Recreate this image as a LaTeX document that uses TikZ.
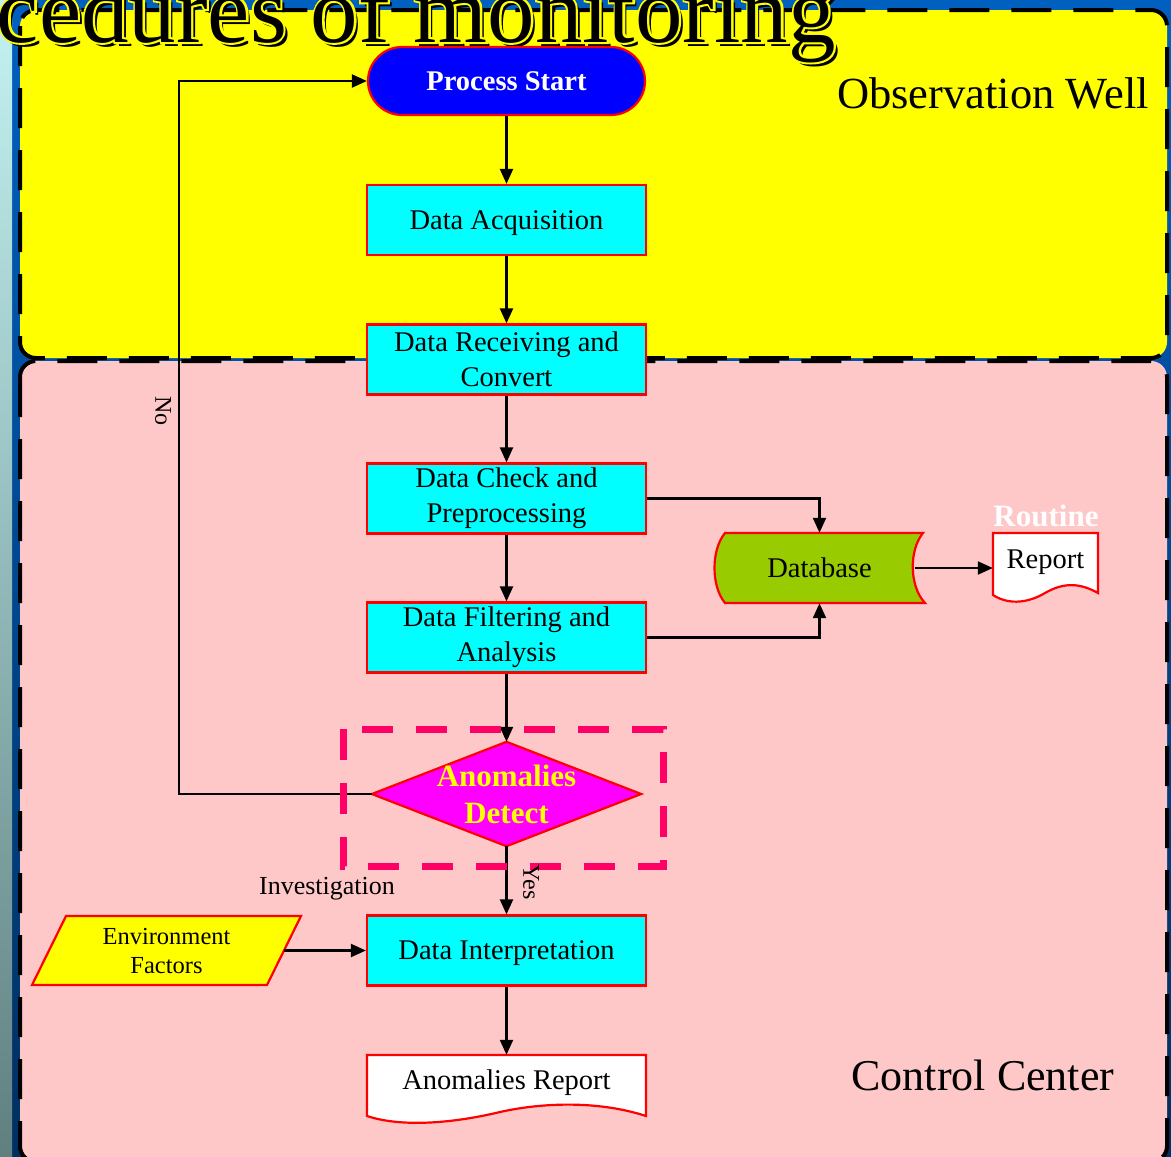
\documentclass[tikz,border=0pt]{standalone}
\usepackage{fontspec}
\setmainfont{Liberation Serif}
\usetikzlibrary{arrows.meta}
\definecolor{bgblue}{RGB}{0,96,192}
\definecolor{bgnavy}{RGB}{0,48,96}
\definecolor{stripc}{RGB}{196,242,242}
\definecolor{stripg}{RGB}{96,128,128}
\definecolor{panelpink}{RGB}{255,200,200}
\definecolor{dbgreen}{RGB}{153,204,0}
\definecolor{hotpink}{RGB}{255,0,102}
\definecolor{pyellow}{RGB}{255,255,0}
\definecolor{pcyan}{RGB}{0,255,255}
\definecolor{pmagenta}{RGB}{255,0,255}
\definecolor{pblue}{RGB}{0,0,255}
\definecolor{pred}{RGB}{255,0,0}
\newcommand{\mytitle}{Procedures of monitoring}
\newcommand{\halotitle}{\rlap{\special{pdf:literal direct 1 Tr 4 w 1 1 0 RG}\mytitle\special{pdf:literal direct 0 Tr 1 w}}\mytitle}
\begin{document}
\begin{tikzpicture}[x=1pt,y=-1pt,
  conn/.style={line width=2.2pt,-{Triangle[length=15pt,width=13pt]}},
  panel/.style={draw=black,line width=4pt,dash pattern=on 40pt off 22pt,rounded corners=16pt},
  procbox/.style={draw=pred,line width=2.2pt,fill=pcyan,minimum width=279pt,minimum height=70pt,inner sep=0pt,align=center,font=\fontsize{28.5}{35}\selectfont},
  oneline/.style={text depth=0pt},
  shapeline/.style={draw=pred,line width=2.2pt},
  plain/.style={inner sep=0pt,align=center},
  bigtitle/.style={inner sep=0pt,anchor=base east,font=\fontsize{95}{100}\selectfont}
]
\useasboundingbox (0,0) rectangle (1171,1157);
\clip (0,0) rectangle (1171,1157);
% background
\shade[top color=bgblue,bottom color=bgnavy] (0,0) rectangle (1171,1157);
\shade[top color=stripc,bottom color=stripg] (0,0) rectangle (12,1157);
% panels
\draw[panel,fill=pyellow] (20,10) rectangle (1167,358);
\draw[panel,fill=panelpink] (20,361) rectangle (1167,1162);
% title: shadow and outlined text
\node[bigtitle,text=black] (titleshadow) at (840,46) {\mytitle};
\node[bigtitle,text=black] (title) at (836,42) {\halotitle};
\node[plain,anchor=base,font=\fontsize{44.5}{44.5}\selectfont] (ow) at (993,108) {Observation Well};
\node[plain,anchor=base,font=\fontsize{44}{44}\selectfont] (cc) at (983,1090) {Control Center};
% nodes
\node[draw=pred,line width=2.2pt,fill=pblue,rounded corners=34pt,minimum width=277pt,minimum height=68pt,inner sep=0pt,text=white,font=\bfseries\fontsize{28.5}{34}\selectfont] (start) at (506.5,81) {Process Start};
\node[procbox,oneline] (acq) at (506.5,220) {Data Acquisition};
\node[procbox] (rec) at (506.5,359.5) {Data Receiving and\\Convert};
\node[procbox] (chk) at (506.5,498.5) {Data Check and\\Preprocessing};
\node[procbox] (flt) at (506.5,637.5) {Data Filtering and\\Analysis};
\node[procbox,oneline] (itp) at (506.5,950.5) {Data Interpretation};
% diamond
\node[plain,minimum width=269pt,minimum height=104pt] (det) at (506.5,794) {};
\draw[shapeline,fill=pmagenta] (det.west) -- (det.north) -- (det.east) -- (det.south) -- cycle;
\node[plain,text=pyellow,font=\bfseries\fontsize{31}{37}\selectfont] (dettxt) at (506.5,794) {Anomalies\\Detect};
% database
\node[plain,minimum width=207pt,minimum height=70pt] (db) at (819.5,568) {};
\draw[shapeline,fill=dbgreen] (725,533) -- (923,533) .. controls (909,550) and (909,586) .. (925,603) -- (725,603) .. controls (711,586) and (711,550) .. (725,533) -- cycle;
\node[plain,font=\fontsize{28.5}{34}\selectfont] (dbtxt) at (819.5,568) {Database};
% routine report
\node[plain,minimum width=105pt,minimum height=70pt] (rep) at (1045.5,568) {};
\draw[shapeline,fill=white] (993,533) -- (1098,533) -- (1098,593) .. controls (1080,583) and (1064,582) .. (1045,593) .. controls (1030,602) and (1010,606) .. (993,595) -- cycle;
\node[plain,font=\fontsize{28.5}{34}\selectfont] (reptxt) at (1045.5,562) {Report};
\node[plain,text=white,font=\bfseries\fontsize{31}{36}\selectfont] (routine) at (1046,516) {Routine};
% anomalies report
\node[plain,minimum width=279pt,minimum height=70pt] (arep) at (506.5,1090) {};
\draw[shapeline,fill=white] (367,1055) -- (646,1055) -- (646,1116) .. controls (600,1101) and (545,1102) .. (500,1112) .. controls (450,1124) and (400,1127) .. (367,1116) -- cycle;
\node[plain,font=\fontsize{28.5}{34}\selectfont] (areptxt) at (506.5,1083) {Anomalies Report};
% environment factors
\node[plain,minimum width=235pt,minimum height=69pt] (env) at (166.5,950.5) {};
\draw[shapeline,fill=pyellow] (66,916) -- (301,916) -- (267,985) -- (32,985) -- cycle;
\node[plain,font=\fontsize{24.5}{29}\selectfont] (envtxt) at (166.5,951) {Environment\\Factors};
% connectors
\coordinate (nocorner) at (179,794);
\draw[conn] (start) -- (acq);
\draw[conn] (acq) -- (rec);
\draw[conn] (rec) -- (chk);
\draw[conn] (chk) -- (flt);
\draw[conn] (flt.south) -- (det.north);
\draw[conn] (det.south) -- (itp.north);
\draw[conn] (itp) -- (arep.north);
\draw[conn] (det.west) -- (nocorner) |- (start.west);
\draw[conn] (chk.east) -| (db.north);
\draw[conn] (flt.east) -| (db.south);
\draw[conn] ([xshift=-8pt]db.east) -- (rep.west);
\draw[conn] (env.east) -- (itp.west);
% dashed highlight
\draw[hotpink,line width=7pt,dash pattern=on 31pt off 23pt] (343,729) rectangle (663,866);
% labels
\node[plain,rotate=-90,font=\fontsize{24}{28}\selectfont] (nolbl) at (163,411) {No};
\node[plain,rotate=-90,font=\fontsize{24}{28}\selectfont] (yeslbl) at (531,882) {Yes};
\node[plain,font=\fontsize{26}{30}\selectfont] (inv) at (327,889) {Investigation};
\end{tikzpicture}
\end{document}
